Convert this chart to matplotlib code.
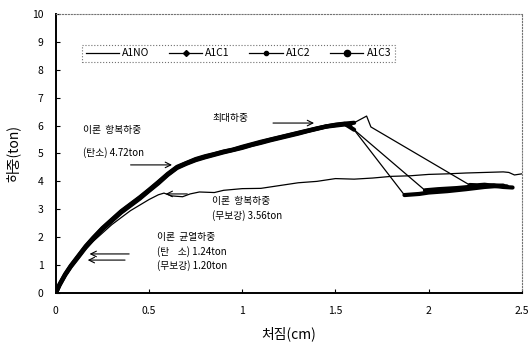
import numpy as np
import matplotlib.pyplot as plt

plt.rcParams['font.family'] = ['Noto Sans CJK KR', 'DejaVu Sans']

# 처짐(cm) - 하중(ton)
no_x = [0, 0.05, 0.1, 0.15, 0.2, 0.25, 0.3, 0.35, 0.4, 0.45, 0.5, 0.55, 0.58, 0.62,
        0.68, 0.72, 0.77, 0.85, 0.9, 1.0, 1.1, 1.2, 1.3, 1.4, 1.5, 1.6, 1.7, 1.8,
        1.9, 2.0, 2.1, 2.2, 2.3, 2.4, 2.43, 2.46, 2.5]
no_y = [0, 0.6, 1.1, 1.5, 1.85, 2.15, 2.45, 2.7, 2.95, 3.15, 3.35, 3.52, 3.58, 3.48,
        3.45, 3.55, 3.62, 3.6, 3.68, 3.74, 3.75, 3.85, 3.95, 4.0, 4.1, 4.08, 4.12,
        4.18, 4.2, 4.25, 4.27, 4.3, 4.32, 4.34, 4.32, 4.23, 4.27]

rise_x = [0, 0.02, 0.05, 0.08, 0.12, 0.16, 0.2, 0.25, 0.3, 0.35, 0.4, 0.45, 0.5, 0.55,
          0.6, 0.65, 0.7, 0.75, 0.8, 0.85, 0.9, 0.95, 1.0, 1.05, 1.1, 1.15, 1.2, 1.25,
          1.3, 1.35, 1.4, 1.45, 1.5, 1.55]

c1_x = rise_x + [1.6, 1.667, 1.69, 2.22, 2.26, 2.3, 2.35, 2.4, 2.45]
c1_y = [0, 0.32, 0.68, 0.98, 1.33, 1.68, 1.98, 2.33, 2.63, 2.93, 3.18, 3.43, 3.7,
        3.98, 4.27, 4.52, 4.66, 4.8, 4.9, 4.98, 5.07, 5.14, 5.24, 5.33, 5.42, 5.5,
        5.58, 5.66, 5.74, 5.82, 5.9, 5.97, 6.03, 6.07, 6.1, 6.34, 5.95,
        3.87, 3.86, 3.88, 3.84, 3.8, 3.78]
c2_x = rise_x + [1.58, 1.87, 1.95, 2.0, 2.1, 2.2, 2.3, 2.4]
c2_y = [0, 0.28, 0.64, 0.94, 1.28, 1.63, 1.93, 2.28, 2.58, 2.88, 3.13, 3.38, 3.66,
        3.93, 4.23, 4.48, 4.63, 4.76, 4.86, 4.95, 5.04, 5.12, 5.2, 5.3, 5.38, 5.47,
        5.55, 5.63, 5.71, 5.8, 5.88, 5.96, 6.0, 6.04, 6.02,
        3.51, 3.55, 3.6, 3.65, 3.72, 3.8, 3.85]
c3_x = rise_x + [1.6, 1.98, 2.05, 2.15, 2.25, 2.35, 2.42]
c3_y = [0, 0.3, 0.66, 0.96, 1.31, 1.66, 1.96, 2.31, 2.61, 2.91, 3.16, 3.41, 3.68,
        3.96, 4.25, 4.5, 4.65, 4.78, 4.88, 4.97, 5.06, 5.13, 5.22, 5.31, 5.4, 5.49,
        5.57, 5.65, 5.73, 5.81, 5.89, 5.97, 6.02, 6.06, 5.85,
        3.68, 3.72, 3.76, 3.82, 3.86, 3.82]

fig = plt.figure(figsize=(5.32, 3.48), dpi=100)
ax = fig.add_axes([0.105, 0.158, 0.876, 0.802])

ax.plot(no_x, no_y, color='black', lw=0.9, label='A1NO')

# (x, y, marker, size, name, end of thick band, start of tail band)
series = [(c1_x, c1_y, 'D', 3.0, 'A1C1', 35, 37),
          (c2_x, c2_y, 'o', 3.0, 'A1C2', 35, 35),
          (c3_x, c3_y, 'o', 4.5, 'A1C3', 35, 35)]
for x, y, mk, ms, name, a, b in series:
    ax.plot(x[:a], y[:a], color='black', lw=3.0, solid_capstyle='round')
    ax.plot(x[a - 1:b + 1], y[a - 1:b + 1], color='black', lw=0.9)
    ax.plot(x[b:], y[b:], color='black', lw=3.0, solid_capstyle='round')
    ax.plot([], [], color='black', lw=0.9, marker=mk, ms=ms, label=name)

ax.set_xlim(0, 2.5)
ax.set_ylim(0, 10)
ax.set_xticks([0, 0.5, 1, 1.5, 2, 2.5])
ax.set_xticklabels(['0', '0.5', '1', '1.5', '2', '2.5'])
ax.set_yticks(range(11))
ax.tick_params(direction='in', length=3, labelsize=7.5, pad=9)
for s in ['left', 'bottom']:
    ax.spines[s].set_linewidth(1.4)
for s in ['top', 'right']:
    ax.spines[s].set_linestyle(':')
    ax.spines[s].set_color('0.45')
    ax.spines[s].set_linewidth(0.8)

ax.set_xlabel('처짐(cm)', fontsize=10, labelpad=8)
ax.set_ylabel('하중(ton)', fontsize=10, labelpad=8)

leg = ax.legend(ncol=4, loc='lower left', bbox_to_anchor=(0.056, 0.828, 0.671, 0.079),
                mode='expand', fontsize=7.5, handlelength=3.2, handletextpad=0.3,
                fancybox=False, borderaxespad=0, borderpad=0.35)
leg.get_frame().set_linestyle(':')
leg.get_frame().set_edgecolor('0.3')
leg.get_frame().set_linewidth(0.8)

fs = 7
ax.text(0.84, 6.27, '최대하중', fontsize=fs, va='center')
ax.annotate('', xy=(1.40, 6.09), xytext=(1.15, 6.09),
            arrowprops=dict(arrowstyle='->', lw=0.8, color='black'))

ax.text(0.145, 5.84, '이론  항복하중', fontsize=fs, va='center')
ax.text(0.145, 5.05, '(탄소) 4.72ton', fontsize=fs, va='center')
ax.annotate('', xy=(0.638, 4.59), xytext=(0.386, 4.59),
            arrowprops=dict(arrowstyle='->', lw=0.8, color='black'))

ax.text(0.84, 3.30, '이론  항복하중', fontsize=fs, va='center')
ax.text(0.84, 2.76, '(무보강) 3.56ton', fontsize=fs, va='center')
ax.annotate('', xy=(0.574, 3.55), xytext=(0.72, 3.55),
            arrowprops=dict(arrowstyle='->', lw=0.8, color='black'))

ax.text(0.54, 2.0, '이론  균열하중', fontsize=fs, va='center')
ax.text(0.54, 1.47, '(탄    소) 1.24ton', fontsize=fs, va='center')
ax.text(0.54, 0.97, '(무보강) 1.20ton', fontsize=fs, va='center')
ax.annotate('', xy=(0.166, 1.40), xytext=(0.408, 1.40),
            arrowprops=dict(arrowstyle='->', lw=0.8, color='black'))
ax.annotate('', xy=(0.156, 1.18), xytext=(0.386, 1.18),
            arrowprops=dict(arrowstyle='->', lw=0.8, color='black'))

fig.savefig('out.png', dpi=100)
